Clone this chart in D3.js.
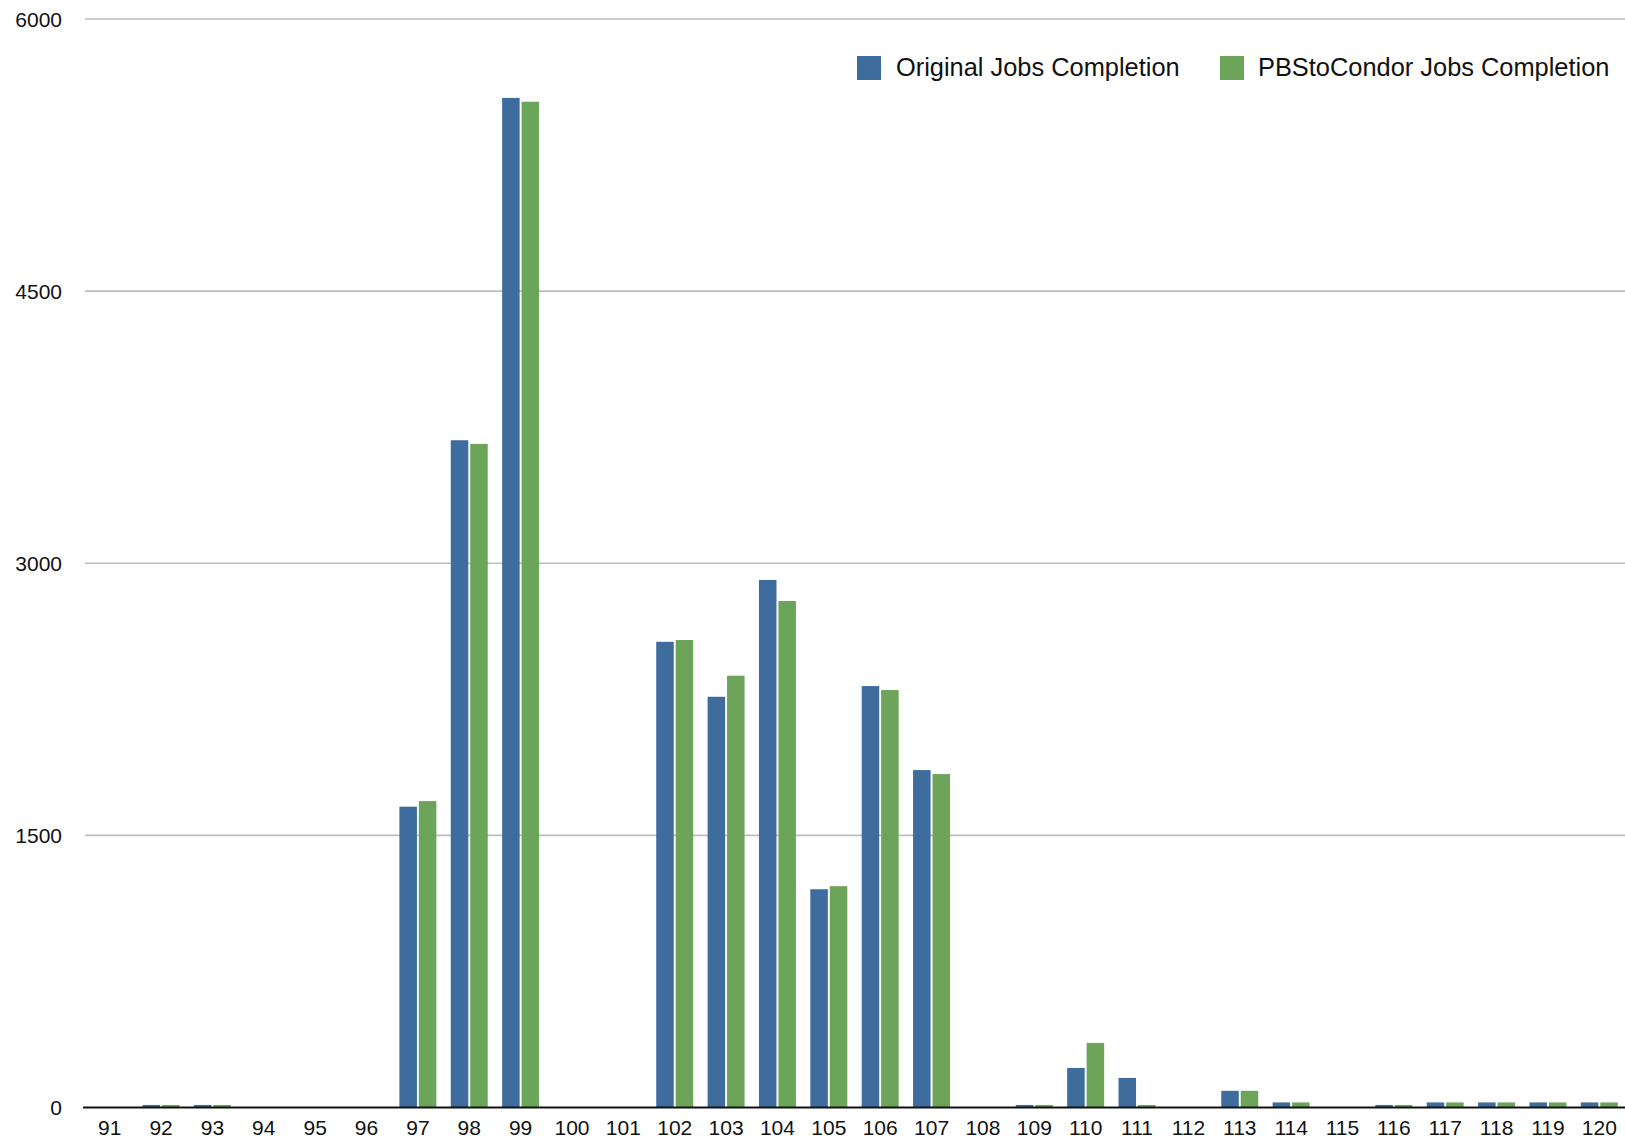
<!DOCTYPE html>
<html>
<head>
<meta charset="utf-8">
<script src="https://cdn.jsdelivr.net/npm/d3@7"></script>
<style>
  html, body { margin: 0; padding: 0; background: #fff; }
  svg { display: block; font-family: "Liberation Sans", Arial, Helvetica, sans-serif; }
</style>
</head>
<body>
<svg id="chart" width="1625" height="1142"></svg>
<script>
// Categories (x axis)
const categories = ["91","92","93","94","95","96","97","98","99","100","101","102","103","104","105","106","107","108","109","110","111","112","113","114","115","116","117","118","119","120"];

// Series values, one per category
const originalJobs = [0, 14, 14, 0, 0, 0, 1658, 3678, 5565, 0, 0, 2567, 2264, 2908, 1203, 2323, 1860, 0, 14, 218, 163, 0, 92, 28, 0, 14, 28, 28, 28, 28];
const pbsToCondorJobs = [0, 14, 14, 0, 0, 0, 1689, 3658, 5544, 0, 0, 2577, 2380, 2792, 1220, 2301, 1838, 0, 14, 356, 14, 0, 92, 28, 0, 14, 28, 28, 28, 28];

const seriesNames = ["Original Jobs Completion", "PBStoCondor Jobs Completion"];
const seriesColors = ["#3d6c9d", "#6ca45a"];
const yTicks = [0, 1500, 3000, 4500, 6000];

const seriesValues = [originalJobs, pbsToCondorJobs];
const rows = categories.map((c, i) => ({ cat: c, vals: seriesValues.map(s => s[i]) }));

const svg = d3.select("#chart");
const W = 1625;

const x = d3.scaleBand()
  .domain(categories)
  .range([84, W])
  .paddingInner(0.28)
  .paddingOuter(0.14);

const x1 = d3.scaleBand()
  .domain(d3.range(seriesNames.length))
  .range([0, x.bandwidth()])
  .paddingInner(0.1);

const y = d3.scaleLinear().domain([0, 6000]).range([1107.5, 19]);

// Horizontal grid lines
svg.append("g")
  .selectAll("line")
  .data(yTicks.filter(t => t > 0))
  .join("line")
  .attr("x1", 85).attr("x2", W)
  .attr("y1", d => y(d)).attr("y2", d => y(d))
  .attr("stroke", "#bdbdbd")
  .attr("stroke-width", 1.6);

// Y tick labels
svg.append("g")
  .selectAll("text")
  .data(yTicks)
  .join("text")
  .attr("x", 62)
  .attr("y", d => y(d))
  .attr("dy", "0.36em")
  .attr("text-anchor", "end")
  .attr("font-size", 21)
  .attr("fill", "#111")
  .text(d => d);

// Bars
const groups = svg.append("g")
  .selectAll("g")
  .data(rows)
  .join("g")
  .attr("transform", d => `translate(${x(d.cat)},0)`);

groups.selectAll("rect")
  .data(d => d.vals.map((v, k) => ({ v, k })))
  .join("rect")
  .attr("x", d => x1(d.k))
  .attr("width", x1.bandwidth())
  .attr("y", d => y(d.v))
  .attr("height", d => y(0) - y(d.v))
  .attr("fill", d => seriesColors[d.k]);

// Baseline
svg.append("line")
  .attr("x1", 83).attr("x2", W)
  .attr("y1", y(0)).attr("y2", y(0))
  .attr("stroke", "#111")
  .attr("stroke-width", 2);

// X axis labels
const xAxis = d3.axisBottom(x).tickSize(0).tickPadding(0);
const xg = svg.append("g")
  .attr("transform", `translate(0,${y(0)})`)
  .call(xAxis);
xg.select(".domain").remove();
xg.selectAll("text")
  .attr("y", 20)
  .attr("dy", "0.36em")
  .attr("font-size", 21)
  .attr("font-family", "'Liberation Sans', Arial, Helvetica, sans-serif")
  .attr("fill", "#111");

// Legend
const legendItems = [
  { name: seriesNames[0], color: seriesColors[0], sx: 857, tx: 896 },
  { name: seriesNames[1], color: seriesColors[1], sx: 1220, tx: 1258 }
];
const lg = svg.append("g");
lg.selectAll("rect")
  .data(legendItems)
  .join("rect")
  .attr("x", d => d.sx).attr("y", 56)
  .attr("width", 24).attr("height", 24)
  .attr("fill", d => d.color);
lg.selectAll("text")
  .data(legendItems)
  .join("text")
  .attr("x", d => d.tx).attr("y", 67)
  .attr("dy", "0.36em")
  .attr("font-size", 25.4)
  .attr("fill", "#111")
  .text(d => d.name);
</script>
</body>
</html>
